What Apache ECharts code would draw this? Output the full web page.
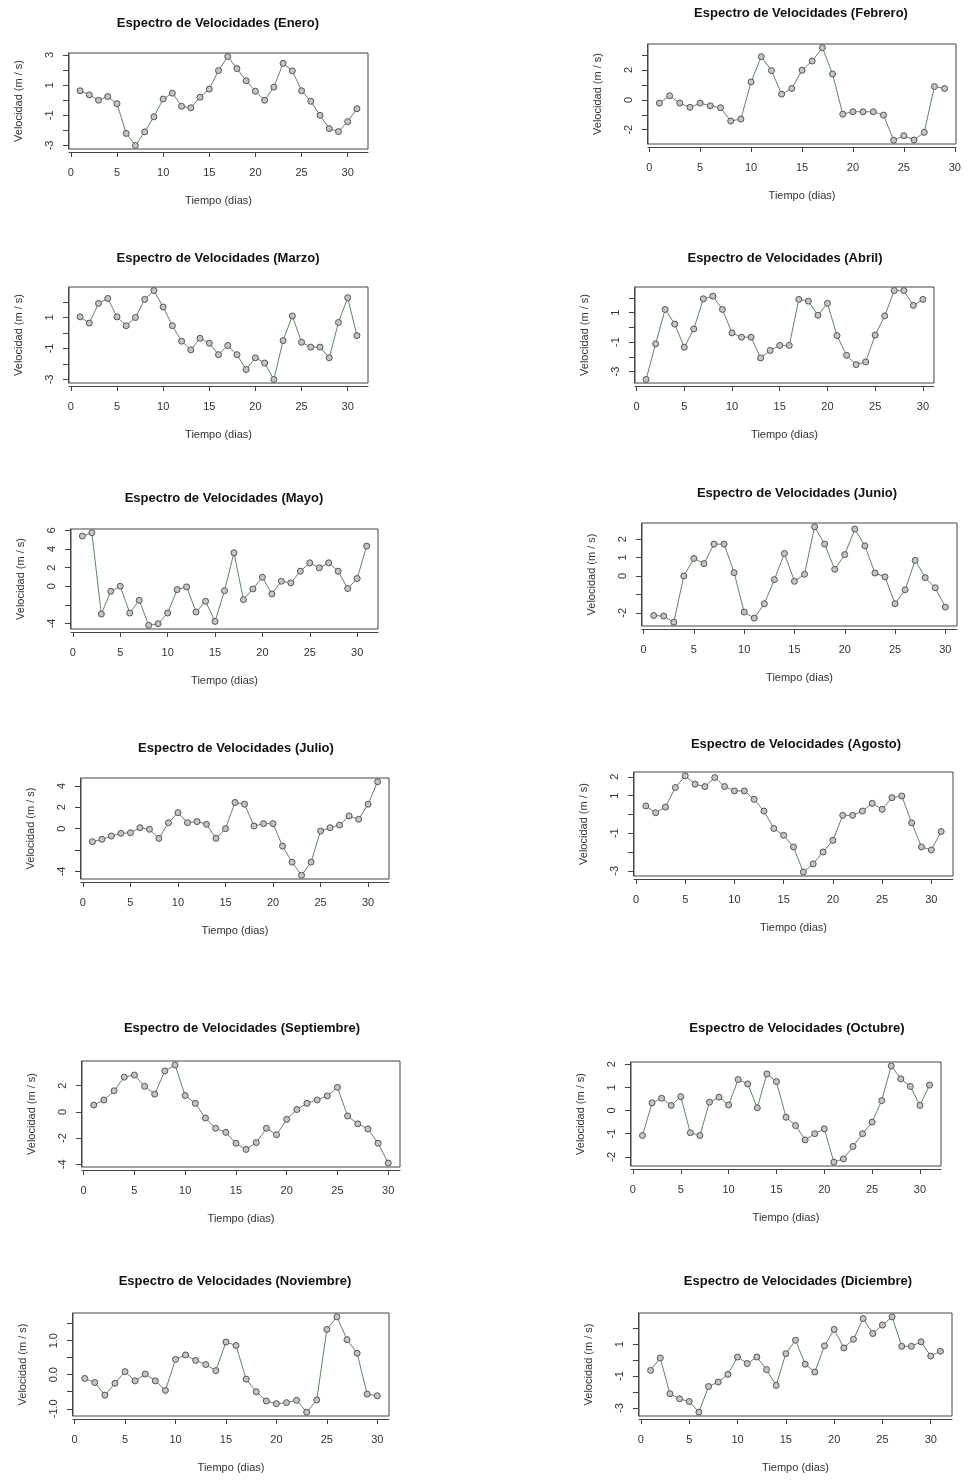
<!DOCTYPE html>
<html><head><meta charset="utf-8">
<script src="https://cdn.jsdelivr.net/npm/echarts@6/dist/echarts.min.js"></script>
<style>html,body{margin:0;padding:0;background:#fff}#c{width:968px;height:1482px}</style>
</head><body><div id="c"></div>
<script>
const months = ["Enero","Febrero","Marzo","Abril","Mayo","Junio","Julio","Agosto","Septiembre","Octubre","Noviembre","Diciembre"];

const enero = [0.63,0.36,0.0,0.25,-0.23,-2.2,-3.0,-2.1,-1.1,0.08,0.47,-0.4,-0.5,0.2,0.74,1.97,2.9,2.1,1.29,0.6,0.0,0.87,2.45,1.95,0.63,-0.07,-1.0,-1.88,-2.08,-1.42,-0.56];
const febrero = [-0.22,0.27,-0.22,-0.5,-0.22,-0.4,-0.53,-1.42,-1.29,1.2,2.89,1.96,0.38,0.76,1.98,2.6,3.49,1.73,-0.96,-0.8,-0.8,-0.8,-1.02,-2.71,-2.4,-2.69,-2.18,0.89,0.76];
const marzo = [1.04,0.64,1.91,2.23,1.04,0.47,1.0,2.17,2.74,1.68,0.47,-0.53,-1.09,-0.34,-0.66,-1.4,-0.81,-1.4,-2.36,-1.6,-1.94,-3.0,-0.49,1.1,-0.6,-0.91,-0.91,-1.6,0.68,2.28,-0.17];
const abril = [-3.54,-1.12,1.22,0.22,-1.35,-0.11,1.94,2.12,1.22,-0.38,-0.67,-0.67,-2.08,-1.57,-1.23,-1.23,1.9,1.78,0.82,1.63,-0.56,-1.9,-2.53,-2.35,-0.52,0.78,2.5,2.5,1.49,1.9];
const mayo = [5.4,5.76,-2.99,-0.54,0,-2.88,-1.51,-4.2,-4.03,-2.88,-0.36,-0.07,-2.77,-1.62,-3.78,-0.47,3.6,-1.44,-0.29,0.97,-0.83,0.54,0.36,1.62,2.52,1.98,2.52,1.62,-0.25,0.83,4.32];
const junio = [-2.15,-2.18,-2.51,0,0.95,0.67,1.73,1.73,0.18,-1.96,-2.29,-1.51,-0.2,1.22,-0.29,0.09,2.67,1.73,0.36,1.16,2.55,1.64,0.16,-0.05,-1.51,-0.75,0.85,-0.09,-0.64,-1.69];
const julio = [-1.22,-1.0,-0.69,-0.44,-0.38,0.09,-0.06,-0.91,0.56,1.5,0.56,0.66,0.41,-0.91,0,2.45,2.29,0.25,0.47,0.47,-1.63,-3.13,-4.36,-3.13,-0.22,0.09,0.34,1.19,0.88,2.29,4.39];
const agosto = [0.45,0.09,0.39,1.43,2.05,1.61,1.48,1.96,1.48,1.25,1.25,0.8,0.18,-0.75,-1.11,-1.73,-3.07,-2.63,-2.0,-1.38,-0.05,-0.05,0.18,0.59,0.27,0.89,0.98,-0.45,-1.73,-1.89,-0.91];
const septiembre = [0.52,0.91,1.61,2.65,2.81,1.95,1.35,3.12,3.58,1.25,0.65,-0.47,-1.25,-1.56,-2.39,-2.86,-2.34,-1.25,-1.74,-0.57,0.18,0.65,0.91,1.22,1.87,-0.31,-0.91,-1.3,-2.39,-3.9];
const octubre = [-1.08,0.33,0.53,0.22,0.6,-0.96,-1.08,0.36,0.58,0.24,1.34,1.15,0.12,1.58,1.25,-0.29,-0.65,-1.27,-1.0,-0.79,-2.23,-2.09,-1.55,-1.0,-0.5,0.43,1.93,1.37,1.04,0.22,1.1];
const noviembre = [-0.11,-0.23,-0.6,-0.25,0.09,-0.18,0.02,-0.18,-0.46,0.45,0.58,0.42,0.3,0.12,0.96,0.86,-0.13,-0.5,-0.77,-0.85,-0.82,-0.75,-1.1,-0.74,1.33,1.7,1.03,0.63,-0.57,-0.62];
const diciembre = [-0.64,0.14,-2.1,-2.42,-2.59,-3.26,-1.65,-1.37,-0.89,0.2,-0.21,0.2,-0.59,-1.58,0.41,1.25,-0.25,-0.74,0.9,1.93,0.77,1.31,2.61,1.67,2.2,2.72,0.87,0.87,1.15,0.26,0.56];

const xTickLabels = [0,5,10,15,20,25,30];

const yTicks = [
  [-3,-2,-1,0,1,2,3], [-2,-1,0,1,2,3], [-3,-2,-1,0,1,2], [-3,-2,-1,0,1,2],
  [-4,-2,0,2,4,6], [-2,-1,0,1,2], [-4,-2,0,2,4], [-3,-2,-1,0,1,2],
  [-4,-2,0,2], [-2,-1,0,1,2], [-1,-0.5,0,0.5,1,1.5], [-3,-2,-1,0,1,2]
];
const yTickLabels = [
  [-3,-1,1,3], [-2,0,2], [-3,-1,1], [-3,-1,1],
  [-4,0,2,4,6], [-2,0,1,2], [-4,0,2,4], [-3,-1,1,2],
  [-4,-2,0,2], [-2,-1,0,1,2], [-1,0,1], [-3,-1,1]
];

const series = [enero,febrero,marzo,abril,mayo,junio,julio,agosto,septiembre,octubre,noviembre,diciembre];

// layout: plot box [left, top, right, bottom], title centre [x, y]
const boxes = [
  [69,53,368,149],[648,44,956,144],
  [69,287,368,383],[635,287,934,383],
  [71,529,378,629],[642,523,957,626],
  [81,778,389,879],[634,772,953,876],
  [82,1061,400,1167],[631,1062,941,1166],
  [73,1313,389,1416],[639,1313,952,1416]
];
const titlePos = [
  [218,25],[801,15],[218,260],[785,260],[224,500],[797,495],
  [236,750],[796,746],[242,1030],[797,1030],[235,1283],[798,1283]
];

const FONT = "'Liberation Sans', Arial, sans-serif";
const option = {animation:false, backgroundColor:'#fff', title:[], grid:[], xAxis:[], yAxis:[], series:[]};

series.forEach((vals, i) => {
  const b = boxes[i];
  const n = vals.length;
  const xmin = 1 - 0.04*(n-1), xmax = n + 0.04*(n-1);
  const lo = Math.min(...vals), hi = Math.max(...vals);
  const ymin = lo - 0.04*(hi-lo), ymax = hi + 0.04*(hi-lo);
  const isNov = i === 10;
  option.title.push({
    text: 'Espectro de Velocidades (' + months[i] + ')',
    left: titlePos[i][0], top: titlePos[i][1] - 8, textAlign: 'center', padding: 0,
    textStyle: {fontFamily: FONT, fontSize: 13, fontWeight: 'bold', color: '#111'}
  });
  option.grid.push({left: b[0], top: b[1], width: b[2]-b[0], height: b[3]-b[1],
    show: true, borderColor: '#444', borderWidth: 1, backgroundColor: 'transparent', containLabel: false});
  option.xAxis.push({
    type: 'value', gridIndex: i, min: xmin, max: xmax, offset: 3, position: 'bottom',
    name: 'Tiempo (dias)', nameLocation: 'middle', nameGap: 43,
    nameTextStyle: {fontFamily: FONT, fontSize: 11, color: '#333'},
    axisLine: {show: true, onZero: false, lineStyle: {color: '#444', width: 1}},
    axisTick: {show: true, length: 5, lineStyle: {color: '#444'}, customValues: xTickLabels},
    axisLabel: {fontFamily: FONT, fontSize: 11, color: '#333', margin: 15, customValues: xTickLabels},
    splitLine: {show: false}
  });
  option.yAxis.push({
    type: 'value', gridIndex: i, min: ymin, max: ymax, offset: 1, position: 'left',
    name: 'Velocidad (m / s)', nameLocation: 'middle', nameGap: 44, nameRotate: 90,
    nameTextStyle: {fontFamily: FONT, fontSize: 11, color: '#333'},
    axisLine: {show: true, onZero: false, lineStyle: {color: '#444', width: 1}},
    axisTick: {show: true, length: 5, lineStyle: {color: '#444'}, customValues: yTicks[i]},
    axisLabel: {fontFamily: FONT, fontSize: 11, color: '#333', rotate: 90, margin: 13,
      customValues: yTickLabels[i],
      formatter: v => isNov ? v.toFixed(1) : String(v)},
    splitLine: {show: false}
  });
  option.series.push({
    type: 'line', xAxisIndex: i, yAxisIndex: i, clip: false,
    data: vals.map((v, k) => [k + 1, v]),
    symbol: 'circle', symbolSize: 6,
    lineStyle: {color: '#5b8a5b', width: 1},
    itemStyle: {color: '#c4c4c4', borderColor: '#555', borderWidth: 1}
  });
});

const chart = echarts.init(document.getElementById('c'), null, {renderer: 'canvas'});
chart.setOption(option);
</script>
</body></html>
